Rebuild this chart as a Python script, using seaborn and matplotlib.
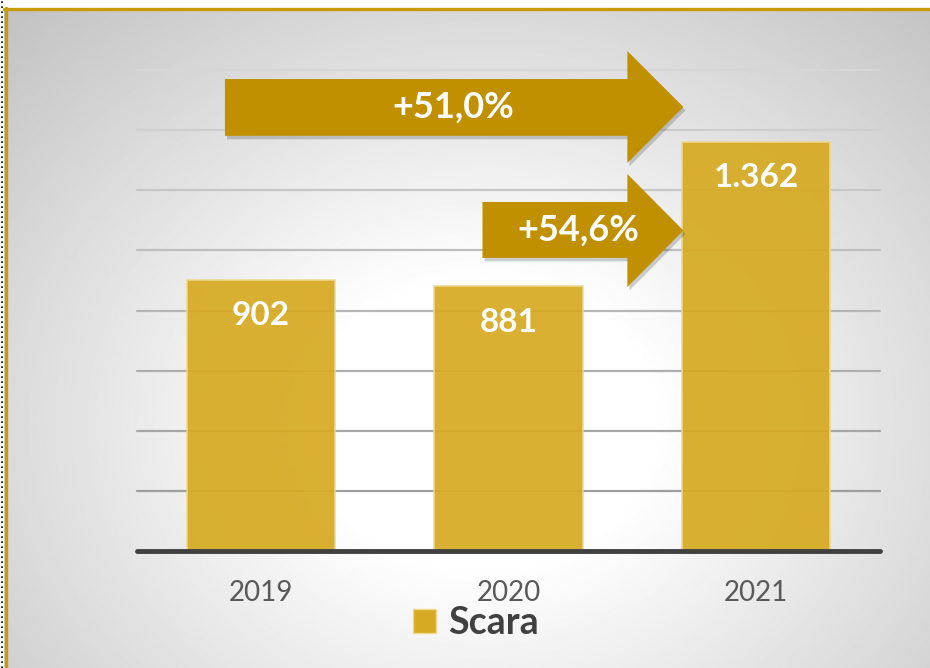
import numpy as np
import matplotlib
matplotlib.use("Agg")
import matplotlib.pyplot as plt
import matplotlib.patheffects as pe
from matplotlib.patches import Polygon, Patch
from matplotlib.lines import Line2D
import seaborn as sns

# data
years = ["2019", "2020", "2021"]
values = [902, 881, 1362]
value_labels = ["902", "881", "1.362"]
growth_labels = ["+51,0%", "+54,6%"]
series_name = "Scara"

bar_color = "#D6AA22"
arrow_color = "#C09000"
gold = "#C89C00"

sns.set_theme(style="white")
plt.rcParams["font.family"] = ["Lato", "DejaVu Sans"]

fig = plt.figure(figsize=(9.3, 6.68), dpi=100)
fig.patch.set_facecolor("white")

# radial grey background
bg = fig.add_axes([4 / 930, 0, 926 / 930, 658 / 668], zorder=0)
yy, xx = np.mgrid[0:668, 0:930]
r = np.sqrt(((xx - 480) / 470.0) ** 2 + ((yy - 420) / 400.0) ** 2)
shade = np.clip(1.08 - 0.22 * r, 0.74, 1.0)
bg.imshow(shade, cmap="gray", vmin=0, vmax=1, aspect="auto", interpolation="bilinear")
bg.set_axis_off()

# main chart
ax = fig.add_axes([137 / 930, 117 / 668, 743 / 930, 481 / 668], zorder=1)
ax.set_facecolor("none")
sns.barplot(x=years, y=values, color=bar_color, saturation=1, width=0.6, alpha=0.93,
            edgecolor="#EFD890", linewidth=1.2, ax=ax, zorder=3)
ax.set_xlim(-0.5, 2.5)
ax.set_ylim(0, 1600)
ax.set_yticks([])
for s in ["left", "right", "top", "bottom"]:
    ax.spines[s].set_visible(False)

# gridlines, lighter towards the top
ticks = list(range(200, 1601, 200))
for i, t in enumerate(ticks):
    g = 0.62 + 0.22 * i / (len(ticks) - 1)
    ax.axhline(t, color=(g, g, g), lw=1.6, zorder=1, clip_on=False)
ax.axhline(0, color="#404040", lw=3.5, zorder=4, clip_on=False)

ax.tick_params(axis="x", length=0, pad=21, labelsize=20, labelcolor="#595959")
ax.set_xlabel("")

for i, (v, lab) in enumerate(zip(values, value_labels)):
    ax.annotate(lab, (i, v), xytext=(0, -26), textcoords="offset points",
                ha="center", va="center", color="white", fontsize=24,
                fontweight="bold", zorder=6)


def arrow(x0, xn, xt, b_lo, b_hi, h_lo, h_hi, text, tx):
    yt = (h_lo + h_hi) / 2
    pts = [(x0, b_lo), (x0, b_hi), (xn, b_hi), (xn, h_hi), (xt, yt),
           (xn, h_lo), (xn, b_lo)]
    p = Polygon(pts, closed=True, facecolor=arrow_color, edgecolor="none",
                clip_on=False, zorder=5)
    p.set_path_effects([pe.SimplePatchShadow(offset=(1.5, -2.5), shadow_rgbFace="black",
                                             alpha=0.18), pe.Normal()])
    ax.add_patch(p)
    ax.text(tx, yt, text, ha="center", va="center", color="white", fontsize=26,
            fontweight="bold", zorder=6)


arrow(-0.145, 1.480, 1.706, 1381, 1570, 1291, 1663, growth_labels[0], 0.778)
arrow(0.895, 1.480, 1.706, 975, 1161, 878, 1254, growth_labels[1], 1.282)

# legend
handle = Patch(facecolor=bar_color, edgecolor="#EFD890", label=series_name)
leg = fig.legend(handles=[handle], loc="center", bbox_to_anchor=(476 / 930, 1 - 623 / 668),
                 frameon=False, fontsize=27, handlelength=0.62, handleheight=0.62,
                 handletextpad=0.32, borderpad=0)
for t in leg.get_texts():
    t.set_color("#404040")
    t.set_fontweight("bold")

# frame border
fig.add_artist(Line2D([5.5 / 930, 5.5 / 930], [0, 1 - 8 / 668], color=gold, lw=2.4))
fig.add_artist(Line2D([4 / 930, 1], [1 - 8.5 / 668, 1 - 8.5 / 668], color=gold, lw=2.4))
fig.add_artist(Line2D([2 / 930, 2 / 930], [0, 1], color="black", lw=1.2, ls=(0, (1, 2))))

fig.savefig("out.png", dpi=100)
